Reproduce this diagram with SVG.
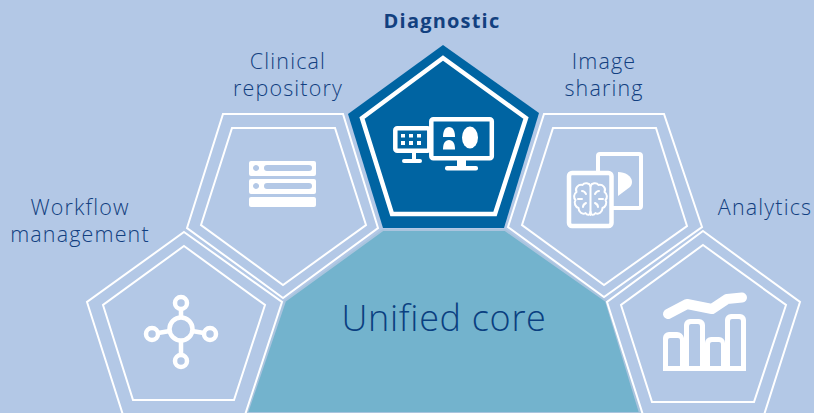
<svg xmlns="http://www.w3.org/2000/svg" width="814" height="413" viewBox="0 0 814 413">
<style>
.bg{fill:#b3c8e6}
.o{fill:none;stroke:#fff;stroke-width:2}
.i{fill:#fff;stroke:none}
.s{fill:none;stroke:#fff;stroke-linejoin:round;stroke-linecap:round}
.t{font-family:"Open Sans","Noto Sans",sans-serif;font-weight:300;font-size:21.5px;letter-spacing:1.15px;fill:#123f80;text-anchor:middle}
</style>
<rect class="bg" width="814" height="413"/>
<g id="core">
<polygon points="383,230 505,230 606,301 640,413 247,413 285,301" fill="#73b3cd" stroke="#a9c4de" stroke-width="2"/>
<text x="444" y="331" font-family="'Open Sans','Noto Sans',sans-serif" font-weight="300" font-size="36" letter-spacing=".7" fill="#0a3f80" text-anchor="middle">Unified core</text>
</g>
<g id="diagnostic">
<polygon points="443,45 539,113 504,228 383,228 348,114" fill="#0064a2"/>
<polygon points="443,58 526,118 495,214 392,214 362,118" fill="none" stroke="#fff" stroke-width="4.500"/>
<rect x="395.300" y="128.300" width="34" height="22.500" rx="2" fill="none" stroke="#fff" stroke-width="4.500"/>
<g class="i">
<rect x="401" y="134" width="4" height="3.500"/><rect x="409" y="134" width="4" height="3.500"/><rect x="417" y="134" width="4" height="3.500"/>
<rect x="401" y="141" width="4" height="4"/><rect x="409" y="141" width="4" height="4"/><rect x="417" y="141" width="4" height="4"/>
<rect x="412" y="152" width="4" height="8"/><rect x="402" y="159" width="20" height="4" rx="2"/>
</g>
<rect x="431.300" y="119.300" width="60.500" height="39" rx="2" fill="#0064a2" stroke="#fff" stroke-width="4.500"/>
<g class="i">
<rect x="457" y="158" width="9" height="10"/><rect x="445" y="166" width="33" height="4.500" rx="2"/>
<path d="M443,137c0,-6 2,-10 6,-10s6,4 6,10Z"/>
<path d="M443,149.500c0,-6 2,-9.500 6,-9.500s6,3.500 6,9.500Z"/>
<ellipse cx="470" cy="137.500" rx="8" ry="11"/>
</g>
</g>
<g id="clinical">
<polygon class="o" points="223,114 343,114 378,228 283,298 187,228"/>
<polygon class="o" points="232,128 335,128 366,225 283,285 201,225"/>
<path class="i" fill-rule="evenodd" d="M251,161H314a2,2 0 0 1 2,2V174a2,2 0 0 1 -2,2H251a2,2 0 0 1 -2,-2V163a2,2 0 0 1 2,-2ZM256,165a3,3 0 1 0 .1,0ZM267,165a3,3 0 0 0 0,6H309a3,3 0 0 0 0,-6Z"/>
<path class="i" fill-rule="evenodd" d="M251,179H314a2,2 0 0 1 2,2V192a2,2 0 0 1 -2,2H251a2,2 0 0 1 -2,-2V181a2,2 0 0 1 2,-2ZM256,183a3,3 0 1 0 .1,0ZM267,183a3,3 0 0 0 0,6H309a3,3 0 0 0 0,-6Z"/>
<rect class="i" x="249" y="197" width="67" height="10" rx="2"/>
<text class="t" x="288" y="69">Clinical</text>
<text class="t" x="288" y="96">repository</text>
</g>
<g id="sharing">
<polygon class="o" points="544,114 664,114 702,227 604,297 508,227"/>
<polygon class="o" points="553,128 656,128 687,226 604,285 522,225"/>
<path class="s" stroke-width="4" d="M598,172V156a2,2 0 0 1 2,-2H639a2,2 0 0 1 2,2V206a2,2 0 0 1 -2,2H613"/>
<path class="i" d="M618,172c7,0 14,4 14,10c0,2 -1,4 -2,5L618,196Z"/>
<rect x="569" y="173" width="42.500" height="53" rx="3" fill="#b3c8e6" stroke="#fff" stroke-width="4.500"/>
<g class="s" stroke-width="2">
<path d="M590.500,186V215"/>
<path d="M590.500,186c-1,-3 -6,-4 -8,-1c-4,-1 -8,3 -6,7c-3,2 -3,6 -1,8c-2,3 0,7 3,8c0,4 4,7 7,5c2,3 5,2 5,-1"/>
<path d="M590.500,186c1,-3 6,-4 8,-1c4,-1 8,3 6,7c3,2 3,6 1,8c2,3 0,7 -3,8c0,4 -4,7 -7,5c-2,3 -5,2 -5,-1"/>
<path d="M582,191c2,0 3,1 4,3M578,199h4M583,207c0,-2 1,-3 3,-4M599,191c-2,0 -3,1 -4,3M603,199h-4M598,207c0,-2 -1,-3 -3,-4"/>
</g>
<text class="t" x="604" y="69">Image</text>
<text class="t" x="604" y="96">sharing</text>
</g>
<g id="workflow">
<polygon class="o" points="184,232 282,302 245,415 123,415 87,302"/>
<polygon class="o" points="184,246 265,305 234,400 133,400 103,305"/>
<g fill="none" stroke="#fff" stroke-width="4.500">
<circle cx="181" cy="329" r="11.500"/>
<circle cx="181" cy="303" r="6"/><circle cx="181" cy="361" r="6"/>
<circle cx="152" cy="334" r="6"/><circle cx="210" cy="334" r="6"/>
<path d="M181,309V317M181,341V355M158,333L170,331M192,331L204,333"/>
</g>
<text class="t" x="80" y="215">Workflow</text>
<text class="t" x="80" y="242">management</text>
</g>
<g id="analytics">
<polygon class="o" points="703,231 800,302 764,415 643,415 607,302"/>
<polygon class="o" points="703,245 786,305 754,402 652,402 621,305"/>
<path class="s" stroke-width="10" d="M668,314L687,304L712,309L727,299L742,297.500"/>
<path class="i" fill-rule="evenodd" d="M663,371V338a6,6 0 0 1 6,-6h8a7,7 0 0 1 7,6V325a6,6 0 0 1 6,-6h9a6,6 0 0 1 6,6V343a6,6 0 0 1 6,-6h8a6,6 0 0 1 6,6V320a6,6 0 0 1 6,-6h9a6,6 0 0 1 6,6V371ZM668,366H680V340a2,2 0 0 0 -2,-2h-8a2,2 0 0 0 -2,2ZM689,366H700V326a2,2 0 0 0 -2,-2h-7a2,2 0 0 0 -2,2ZM710,366H721V344a2,2 0 0 0 -2,-2h-7a2,2 0 0 0 -2,2ZM730,366H741V321a2,2 0 0 0 -2,-2h-7a2,2 0 0 0 -2,2Z"/>
<text class="t" x="765" y="215">Analytics</text>
</g>
<g id="diagnostic-label">
<text x="442" y="28" font-family="'Open Sans','Noto Sans',sans-serif" font-size="20" font-weight="700" letter-spacing="1.2" fill="#12407f" text-anchor="middle">Diagnostic</text>
</g>
</svg>
